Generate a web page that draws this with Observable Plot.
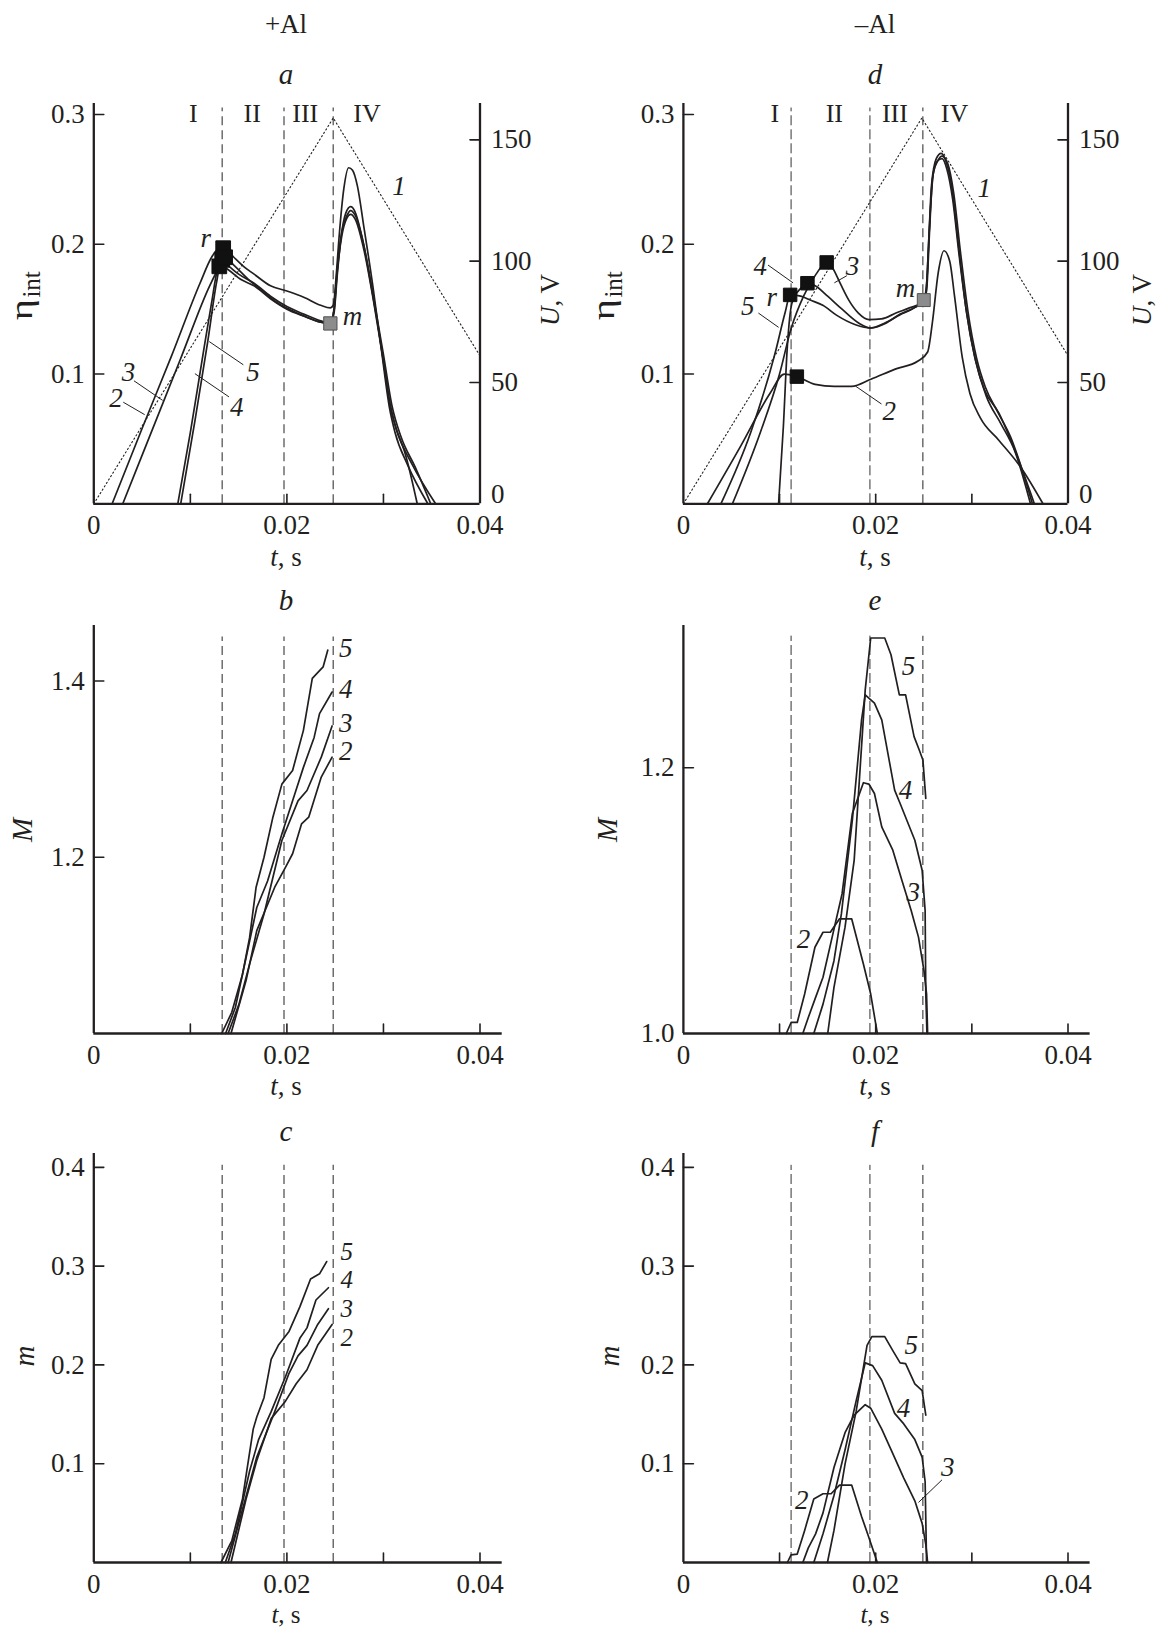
<!DOCTYPE html>
<html><head><meta charset="utf-8">
<script src="https://cdn.jsdelivr.net/npm/d3@7"></script>
<script src="https://cdn.jsdelivr.net/npm/@observablehq/plot@0.6"></script>
<style>
body{margin:0;background:#fff;}
#page{position:relative;width:1156px;height:1627px;font-family:"Liberation Serif","Times New Roman",serif;color:#231f20;overflow:hidden;}
.lbl{position:absolute;transform:translate(-50%,-50%);white-space:nowrap;font-size:27px;line-height:1;z-index:2;}
.big{font-size:29px;}
.sm{font-size:25px;}
.rot{transform:translate(-50%,-50%) rotate(-90deg);}
.eta{font-size:27px;}
.eta .g{display:inline-block;font-size:31px;transform:scaleX(1.3);margin:0 4px 0 3px;}
.eta sub{font-size:25px;vertical-align:-0.3em;}
</style></head>
<body><div id="page"></div>
<script>
// ---------- tick values ----------
const tTicks = [0.01, 0.02, 0.03, 0.04];
const tLabels = [0, 0.02, 0.04];
const etaTicks = [0.1, 0.2, 0.3];
const uTicks = [50, 100, 150];
const uLabels = [50, 100, 150];
const uZero = [0];
const MTicksB = [1.2, 1.4];
const MTicksE = [1.2];
const MLabelsE = [1.0, 1.2];
const mTicks = [0.1, 0.2, 0.3, 0.4];
const kU = 0.00187; // eta-units per volt (shared left/right axis in a, d)

// ---------- stage boundaries ----------
const dashLeft = [0.0133, 0.0197, 0.0248];
const dashRight = [0.0112, 0.0194, 0.0249];
const stages = ["I", "II", "III", "IV"];
const stagePosA = [0.0103, 0.0164, 0.0219, 0.0283];
const stagePosD = [0.0095, 0.0157, 0.0220, 0.0282];

// ---------- panel a (+Al), eta_int ----------
const aU = [[0, 0], [0.0248, 159], [0.04, 61]];
const a2 = [[0.0019,0],[0.0050,0.058],[0.0080,0.113],[0.0110,0.170],[0.0122,0.190],[0.0128,0.196],[0.0134,0.198],[0.0145,0.190],[0.0155,0.183],[0.0166,0.177],[0.0183,0.168],[0.0200,0.164],[0.0218,0.159],[0.0235,0.153],[0.0245,0.151],[0.0248,0.153],[0.0251,0.175],[0.0254,0.205],[0.0259,0.243],[0.0264,0.259],[0.0268,0.257],[0.0273,0.245],[0.0280,0.212],[0.0289,0.168],[0.0298,0.118],[0.0306,0.075],[0.0312,0.055],[0.0325,0.030],[0.0346,0]];
const a3 = [[0.0030,0],[0.0060,0.056],[0.0090,0.112],[0.0120,0.168],[0.0128,0.180],[0.0133,0.187],[0.0140,0.183],[0.0150,0.177],[0.0166,0.170],[0.0183,0.160],[0.0200,0.152],[0.0218,0.146],[0.0235,0.141],[0.0245,0.139],[0.0249,0.148],[0.0252,0.175],[0.0256,0.205],[0.0261,0.224],[0.0266,0.229],[0.0270,0.226],[0.0278,0.205],[0.0288,0.165],[0.0298,0.120],[0.0306,0.080],[0.0313,0.058],[0.0322,0.040],[0.0335,0]];
const a4 = [[0.0087,0],[0.0100,0.055],[0.0112,0.110],[0.0122,0.155],[0.0128,0.180],[0.0131,0.184],[0.0140,0.180],[0.0152,0.173],[0.0166,0.168],[0.0183,0.158],[0.0200,0.150],[0.0218,0.1445],[0.0235,0.140],[0.0245,0.139],[0.0249,0.150],[0.0252,0.178],[0.0257,0.207],[0.0262,0.220],[0.0266,0.223],[0.0271,0.219],[0.0280,0.195],[0.0290,0.155],[0.0300,0.110],[0.0308,0.072],[0.0316,0.052],[0.0330,0.030],[0.0354,0]];
const a5 = [[0.0090,0],[0.0105,0.065],[0.0118,0.125],[0.0127,0.170],[0.0132,0.188],[0.0136,0.190],[0.0145,0.184],[0.0160,0.173],[0.0175,0.164],[0.0190,0.155],[0.0205,0.149],[0.0220,0.144],[0.0235,0.140],[0.0245,0.139],[0.0249,0.152],[0.0252,0.180],[0.0257,0.210],[0.0262,0.222],[0.0266,0.226],[0.0271,0.222],[0.0280,0.198],[0.0290,0.158],[0.0300,0.115],[0.0309,0.075],[0.0318,0.052],[0.0333,0.028],[0.0349,0]];
const aR = [[0.0134,0.197],[0.0133,0.188],[0.0130,0.183],[0.0136,0.190]];
const aM = [[0.0245,0.139]];
const aText = [
  {t:0.0316, v:0.2445, s:"1"}, {t:0.0116, v:0.2047, s:"r"}, {t:0.0268, v:0.1442, s:"m"},
  {t:0.0036, v:0.1016, s:"3"}, {t:0.0023, v:0.0810, s:"2"}, {t:0.0165, v:0.1016, s:"5"}, {t:0.0148, v:0.0742, s:"4"}];
const aLeaders = [[0.00416,0.0948,0.00713,0.0797],[0.00305,0.0783,0.00527,0.0687],[0.01549,0.1071,0.01196,0.125],[0.0140,0.0824,0.01047,0.1003]];

// ---------- panel d (-Al), eta_int ----------
const dU = [[0, 0], [0.0248, 159], [0.04, 61]];
const d2 = [[0.0025,0],[0.0060,0.045],[0.0090,0.085],[0.0105,0.100],[0.0118,0.098],[0.0137,0.092],[0.0157,0.0905],[0.0175,0.0905],[0.0195,0.096],[0.0221,0.104],[0.0244,0.110],[0.0254,0.117],[0.0259,0.140],[0.0265,0.178],[0.0271,0.195],[0.0277,0.187],[0.0282,0.160],[0.0290,0.113],[0.0298,0.085],[0.0309,0.066],[0.0328,0.049],[0.0351,0.028],[0.0374,0]];
const d3 = [[0.0051,0],[0.0080,0.055],[0.0100,0.100],[0.0112,0.135],[0.0125,0.160],[0.0138,0.177],[0.0149,0.186],[0.0155,0.182],[0.0163,0.170],[0.0172,0.157],[0.0182,0.147],[0.0193,0.142],[0.0206,0.1425],[0.0221,0.147],[0.0235,0.151],[0.0248,0.155],[0.0252,0.160],[0.0255,0.200],[0.0258,0.245],[0.0263,0.266],[0.0268,0.270],[0.0273,0.264],[0.0279,0.245],[0.0286,0.200],[0.0294,0.150],[0.0303,0.113],[0.0313,0.088],[0.0328,0.070],[0.0340,0.050],[0.0365,0]];
const d4 = [[0.0099,0],[0.0104,0.060],[0.0108,0.120],[0.0113,0.155],[0.0122,0.166],[0.0129,0.170],[0.0137,0.168],[0.0150,0.160],[0.0165,0.150],[0.0183,0.139],[0.0195,0.1355],[0.0210,0.139],[0.0225,0.146],[0.0240,0.151],[0.0250,0.156],[0.0253,0.165],[0.0256,0.210],[0.0259,0.250],[0.0264,0.264],[0.0269,0.266],[0.0274,0.258],[0.0280,0.235],[0.0287,0.190],[0.0295,0.145],[0.0304,0.110],[0.0315,0.083],[0.0330,0.062],[0.0345,0.040],[0.0361,0]];
const d5 = [[0.0039,0],[0.0070,0.055],[0.0095,0.115],[0.0106,0.148],[0.0111,0.161],[0.0122,0.160],[0.0132,0.157],[0.0145,0.153],[0.0160,0.145],[0.0179,0.138],[0.0195,0.1355],[0.0210,0.1395],[0.0225,0.1455],[0.0240,0.151],[0.0250,0.157],[0.0253,0.170],[0.0256,0.215],[0.0260,0.255],[0.0265,0.265],[0.0269,0.268],[0.0275,0.262],[0.0281,0.240],[0.0288,0.195],[0.0296,0.148],[0.0305,0.112],[0.0314,0.090],[0.0326,0.072],[0.0340,0.052],[0.0363,0]];
const dR = [[0.0111,0.161],[0.0129,0.170],[0.0149,0.186],[0.0118,0.098]];
const dM = [[0.0250,0.157]];
const dText = [
  {t:0.0313, v:0.2431, s:"1"}, {t:0.0092, v:0.1593, s:"r"}, {t:0.0231, v:0.1662, s:"m"},
  {t:0.0080, v:0.1827, s:"4"}, {t:0.0176, v:0.1827, s:"3"}, {t:0.0067, v:0.1525, s:"5"}, {t:0.0214, v:0.0714, s:"2"}];
const dLeaders = [[0.0088,0.184,0.0114,0.1703],[0.0170,0.1758,0.0157,0.1703],[0.0078,0.147,0.0099,0.136],[0.0206,0.0769,0.0179,0.0907]];

// ---------- panel b (+Al), M ----------
const b5 = [[0.01325,1.0],[0.01429,1.024],[0.0154,1.067],[0.01614,1.109],[0.01681,1.166],[0.01763,1.200],[0.01855,1.2455],[0.01948,1.283],[0.02059,1.2985],[0.02171,1.344],[0.02263,1.403],[0.02375,1.416],[0.02423,1.435]];
const b4 = [[0.01365,1.0],[0.01466,1.0295],[0.01577,1.086],[0.01688,1.143],[0.0180,1.173],[0.01948,1.2265],[0.02059,1.264],[0.02171,1.302],[0.02282,1.336],[0.02338,1.363],[0.02468,1.3875]];
const b3 = [[0.01391,1.0],[0.01503,1.033],[0.01614,1.079],[0.01763,1.1356],[0.01948,1.219],[0.02115,1.264],[0.02208,1.2758],[0.02356,1.3136],[0.02468,1.349]];
const b2 = [[0.01421,1.0],[0.01577,1.060],[0.01688,1.1167],[0.01874,1.166],[0.01985,1.1886],[0.02059,1.204],[0.02152,1.238],[0.02226,1.2455],[0.02356,1.291],[0.02468,1.3136]];
const bText = [{t:0.0261, v:1.4367, s:"5"}, {t:0.0261, v:1.3902, s:"4"}, {t:0.0261, v:1.352, s:"3"}, {t:0.0261, v:1.320, s:"2"}];

// ---------- panel e (-Al), M ----------
const e2 = [[0.0107,1.0],[0.0112,1.0083],[0.01184,1.0083],[0.01261,1.0297],[0.01368,1.0649],[0.01452,1.0762],[0.01528,1.0762],[0.01624,1.0863],[0.0175,1.0863],[0.01872,1.0523],[0.01948,1.0297],[0.02017,1.0]];
const e3 = [[0.01242,1.0],[0.01299,1.0121],[0.01375,1.0272],[0.01452,1.0423],[0.01547,1.0725],[0.0165,1.105],[0.01757,1.1655],[0.01872,1.1887],[0.01929,1.1877],[0.01987,1.1806],[0.02063,1.1555],[0.02178,1.1379],[0.02273,1.1152],[0.02369,1.0926],[0.02445,1.0725],[0.02502,1.0473],[0.02529,1.0297],[0.0254,1.0]];
const e4 = [[0.01356,1.0],[0.01452,1.0221],[0.01566,1.0548],[0.01643,1.09],[0.01757,1.1605],[0.01853,1.236],[0.01891,1.2548],[0.01987,1.2486],[0.02063,1.236],[0.02197,1.1831],[0.02254,1.1731],[0.02407,1.1454],[0.02483,1.1228],[0.02514,1.0926],[0.02521,1.0297],[0.02533,1.0]];
const e5 = [[0.01501,1.0],[0.01566,1.0347],[0.01681,1.08],[0.01776,1.1303],[0.01891,1.2586],[0.01948,1.2976],[0.02094,1.2976],[0.02159,1.285],[0.02246,1.2548],[0.02311,1.2548],[0.02399,1.2234],[0.02453,1.2133],[0.02491,1.2058],[0.02521,1.1769]];
const eText = [{t:0.0234, v:1.2762, s:"5"}, {t:0.0231, v:1.1831, s:"4"}, {t:0.0239, v:1.1064, s:"3"}, {t:0.0125, v:1.0712, s:"2"}];

// ---------- panel c (+Al), m ----------
const c5 = [[0.01317,0],[0.01429,0.0219],[0.0154,0.0643],[0.01651,0.135],[0.01688,0.1473],[0.01763,0.1668],[0.01837,0.2057],[0.01911,0.2198],[0.02022,0.2339],[0.02134,0.2587],[0.02245,0.2869],[0.02338,0.2922],[0.02412,0.3046]];
const c4 = [[0.01362,0],[0.01466,0.029],[0.01614,0.0926],[0.01707,0.1244],[0.01837,0.1527],[0.01985,0.188],[0.02134,0.2269],[0.02208,0.2375],[0.02301,0.2657],[0.0243,0.2781]];
const c3 = [[0.01391,0],[0.0154,0.0537],[0.01688,0.1067],[0.01874,0.1527],[0.02022,0.1915],[0.02115,0.2092],[0.02208,0.2198],[0.02319,0.241],[0.0243,0.2569]];
const c2 = [[0.01421,0],[0.01577,0.0643],[0.01688,0.1032],[0.01837,0.1456],[0.01985,0.1633],[0.02096,0.1809],[0.02208,0.1951],[0.02319,0.2198],[0.02468,0.241]];
const cText = [{t:0.0262, v:0.3145, s:"5"}, {t:0.0262, v:0.2855, s:"4"}, {t:0.0262, v:0.2565, s:"3"}, {t:0.0262, v:0.2275, s:"2"}];

// ---------- panel f (-Al), m ----------
const f2 = [[0.01081,0],[0.0112,0.0078],[0.01184,0.0085],[0.01261,0.0325],[0.01356,0.0643],[0.01452,0.0696],[0.01536,0.0696],[0.01624,0.0784],[0.0175,0.0784],[0.01853,0.0466],[0.01929,0.0254],[0.02017,0]];
const f3 = [[0.01242,0],[0.01299,0.0148],[0.01375,0.029],[0.01452,0.0502],[0.01566,0.0961],[0.01681,0.1314],[0.01776,0.1491],[0.01891,0.1597],[0.01948,0.1562],[0.02063,0.135],[0.02178,0.1102],[0.02292,0.0855],[0.02407,0.0625],[0.02483,0.0396],[0.02521,0.0184],[0.0254,0]];
const f4 = [[0.01356,0],[0.01452,0.029],[0.01566,0.0678],[0.01681,0.1138],[0.01796,0.1633],[0.01891,0.2021],[0.01968,0.1993],[0.02063,0.1845],[0.02197,0.1509],[0.02292,0.1403],[0.02407,0.1244],[0.02483,0.1067],[0.02514,0.082],[0.02529,0]];
const f5 = [[0.01498,0],[0.01566,0.0325],[0.01681,0.0996],[0.01796,0.1527],[0.0191,0.2198],[0.0196,0.2286],[0.02094,0.2286],[0.02178,0.2145],[0.02254,0.2021],[0.02311,0.2014],[0.02407,0.1809],[0.02483,0.1739],[0.02521,0.1491]];
const fText = [{t:0.0237, v:0.2198, s:"5"}, {t:0.0229, v:0.1562, s:"4"}, {t:0.0275, v:0.0961, s:"3"}, {t:0.0123, v:0.0625, s:"2"}];
const fLeaders = [[0.0269,0.0837,0.02445,0.0608]];

// ---------- layout ----------
const INK = "#231f20";
const page = document.getElementById("page");
const COLS = [{svgLeft: 0, svgWidth: 580, plotLeft: 93.3, span: 386.2, cx: 286},
              {svgLeft: 580, svgWidth: 576, plotLeft: 682.9, span: 384.6, cx: 875}];
const ROWS = [{top: 103, bottom: 503.3}, {top: 624.7, bottom: 1032.7}, {top: 1153.3, bottom: 1562.3}];
const PAD_T = 30, PAD_B = 50;
const tickShape = {draw(ctx, l) { ctx.moveTo(0, 0); ctx.lineTo(0, -l); }};
const fmtT = d => d === 0 ? "0" : d.toFixed(2);
const fmt1 = d => d.toFixed(1);
const fmtU = d => String(Math.round(d / kU));
const X = d => d[0], Y = d => d[1];

function curveMarks(series, curve) {
  return series.map(s => Plot.line(s, {x: X, y: Y, stroke: INK, strokeWidth: 1.7, curve}));
}
function textMarks(arr, size = 27) {
  return Plot.text(arr, {x: d => d.t, y: d => d.v, text: d => d.s, fontSize: size, fontStyle: "italic", fill: INK});
}
function leaderMarks(arr) {
  return Plot.link(arr, {x1: d => d[0], y1: d => d[1], x2: d => d[2], y2: d => d[3], stroke: INK, strokeWidth: 1});
}
function dashMarks(vals, top, bottom, right) {
  if (!right) return [Plot.ruleX(vals, {x: d => d, y1: () => bottom, y2: () => top, stroke: "#6d6d6d", strokeWidth: 1.5, strokeDasharray: "9,5"})];
  return [
    Plot.ruleX(vals.slice(0, 2), {x: d => d, y1: () => bottom, y2: () => top, stroke: "#333", strokeWidth: 1, strokeDasharray: "10,4"}),
    Plot.ruleX(vals.slice(2), {x: d => d, y1: () => bottom, y2: () => top, stroke: "#6d6d6d", strokeWidth: 1.5, strokeDasharray: "9,5"})
  ];
}

function panel(cfg) {
  const C = COLS[cfg.col], R = ROWS[cfg.row];
  const plotRight = C.plotLeft + C.span * cfg.xMax / 0.04;
  const [y0, y1] = cfg.yDomain;
  const marks = [
    ...cfg.marks,
    Plot.ruleX([0], {x: d => d, y1: () => y0, y2: () => y1, stroke: INK, strokeWidth: 2.3}),
    Plot.ruleY([y0], {y: d => d, x1: () => 0, x2: () => cfg.xMax, stroke: INK, strokeWidth: 2.3}),
    Plot.vector(cfg.xTickMarks, {x: d => d, y: () => y0, length: 9.5, rotate: 0, anchor: "start", shape: tickShape, stroke: INK, strokeWidth: 1.6}),
    Plot.vector(cfg.yTickMarks, {x: () => 0, y: d => d, length: 10, rotate: 90, anchor: "start", shape: tickShape, stroke: INK, strokeWidth: 1.6}),
    Plot.axisX({anchor: "bottom", ticks: cfg.xTickLabels, tickSize: 0, tickPadding: 11, tickFormat: fmtT, label: null}),
    Plot.axisY({anchor: "left", ticks: cfg.yTickLabels, tickSize: 0, tickPadding: 9, tickFormat: cfg.yFmt, label: null})
  ];
  if (cfg.rightAxis) {
    marks.push(
      Plot.ruleX([cfg.xMax], {x: d => d, y1: () => y0, y2: () => y1, stroke: INK, strokeWidth: 2.3}),
      Plot.vector(uTicks, {x: () => cfg.xMax, y: d => d * kU, length: 10, rotate: -90, anchor: "start", shape: tickShape, stroke: INK, strokeWidth: 1.6}),
      Plot.axisY({anchor: "right", ticks: uLabels.map(u => u * kU), tickSize: 0, tickPadding: 11, tickFormat: fmtU, label: null}),
      Plot.axisY({anchor: "right", ticks: uZero.map(u => u * kU), tickSize: 0, tickPadding: 11, dy: -9, tickFormat: fmtU, label: null})
    );
  }
  const svg = Plot.plot({
    width: C.svgWidth, height: R.bottom - R.top + PAD_T + PAD_B,
    marginLeft: C.plotLeft - C.svgLeft, marginRight: C.svgLeft + C.svgWidth - plotRight,
    marginTop: PAD_T, marginBottom: PAD_B,
    x: {domain: [0, cfg.xMax]}, y: {domain: cfg.yDomain},
    style: {fontFamily: '"Liberation Serif", "Times New Roman", serif', fontSize: "27px", color: INK, background: "transparent", maxWidth: "none", overflow: "visible"},
    marks
  });
  svg.style.position = "absolute";
  svg.style.left = C.svgLeft + "px";
  svg.style.top = (R.top - PAD_T) + "px";
  page.appendChild(svg);
}

const sq = (arr, fill, stroke, r) => Plot.dot(arr, {x: X, y: Y, symbol: "square", r, fill, stroke, strokeWidth: 1});
const uLine = arr => Plot.line(arr, {x: X, y: d => d[1] * kU, stroke: INK, strokeWidth: 1.1, strokeDasharray: "1.3,2.7"});
const stageText = pos => Plot.text(stages, {x: (d, i) => pos[i], y: () => 0.3008, text: d => d, fontSize: 26, fill: INK});

// a
panel({col: 0, row: 0, xMax: 0.04, yDomain: [0, 0.3085], xTickMarks: [0.01, 0.02, 0.03], xTickLabels: tLabels,
  yTickMarks: etaTicks, yTickLabels: etaTicks, yFmt: fmt1, rightAxis: true,
  marks: [...dashMarks(dashLeft, 0.305, 0, false), uLine(aU), ...curveMarks([a2, a3, a4, a5], "monotone-x"),
    leaderMarks(aLeaders), sq(aR, "#111", "#111", 8.3), sq(aM, "#8c8c8c", "#505050", 7.5), textMarks(aText), stageText(stagePosA)]});
// d
panel({col: 1, row: 0, xMax: 0.04, yDomain: [0, 0.3085], xTickMarks: [0.01, 0.02, 0.03], xTickLabels: tLabels,
  yTickMarks: etaTicks, yTickLabels: etaTicks, yFmt: fmt1, rightAxis: true,
  marks: [...dashMarks(dashRight, 0.305, 0, true), uLine(dU), ...curveMarks([d2, d3, d4, d5], "monotone-x"),
    leaderMarks(dLeaders), sq(dR, "#111", "#111", 7.6), sq(dM, "#8c8c8c", "#505050", 7.3), textMarks(dText), stageText(stagePosD)]});
// b
panel({col: 0, row: 1, xMax: 0.0423, yDomain: [1.0, 1.463], xTickMarks: tTicks, xTickLabels: tLabels,
  yTickMarks: MTicksB, yTickLabels: MTicksB, yFmt: fmt1,
  marks: [...dashMarks(dashLeft, 1.45, 1.0, false), ...curveMarks([b2, b3, b4, b5], "linear"), textMarks(bText)]});
// e
panel({col: 1, row: 1, xMax: 0.0423, yDomain: [1.0, 1.307], xTickMarks: tTicks, xTickLabels: tLabels,
  yTickMarks: MTicksE, yTickLabels: MLabelsE, yFmt: fmt1,
  marks: [...dashMarks(dashRight, 1.299, 1.0, true), ...curveMarks([e2, e3, e4, e5], "linear"), textMarks(eText)]});
// c
panel({col: 0, row: 2, xMax: 0.0423, yDomain: [0, 0.414], xTickMarks: tTicks, xTickLabels: tLabels,
  yTickMarks: mTicks, yTickLabels: mTicks, yFmt: fmt1,
  marks: [...dashMarks(dashLeft, 0.402, 0, false), ...curveMarks([c2, c3, c4, c5], "linear"), textMarks(cText, 25)]});
// f
panel({col: 1, row: 2, xMax: 0.0423, yDomain: [0, 0.414], xTickMarks: tTicks, xTickLabels: tLabels,
  yTickMarks: mTicks, yTickLabels: mTicks, yFmt: fmt1,
  marks: [...dashMarks(dashRight, 0.402, 0, true), ...curveMarks([f2, f3, f4, f5], "linear"), leaderMarks(fLeaders), textMarks(fText)]});

// ---------- HTML titles ----------
function label(html, x, y, cls = "") {
  const el = document.createElement("div");
  el.className = "lbl " + cls;
  el.innerHTML = html;
  el.style.left = x + "px";
  el.style.top = y + "px";
  page.appendChild(el);
}
const headers = ["+Al", "–Al"];
const letters = [["a", "d"], ["b", "e"], ["c", "f"]];
const yTitles = ['<span class="eta"><span class="g">η</span><sub>int</sub></span>', "<i>M</i>", "<i>m</i>"];
const letterY = [74, 600, 1131];
const xTitleY = [557, 1086, 1614];
const yTitleX = [[25, 607], [22, 607], [24, 609]];
const yTitleY = [296, 830, 1356];
headers.forEach((h, c) => label(h, COLS[c].cx, 24));
letters.forEach((row, r) => row.forEach((l, c) => label("<i>" + l + "</i>", COLS[c].cx, letterY[r], "big")));
[0, 1, 2].forEach(r => [0, 1].forEach(c => {
  label("<i>t</i>, s", COLS[c].cx, xTitleY[r], r === 2 ? "sm" : "");
  label(yTitles[r], yTitleX[r][c], yTitleY[r], "rot big");
}));
label("<i>U</i>, V", 550, 300, "rot");
label("<i>U</i>, V", 1142, 300, "rot");
</script>
</body></html>
